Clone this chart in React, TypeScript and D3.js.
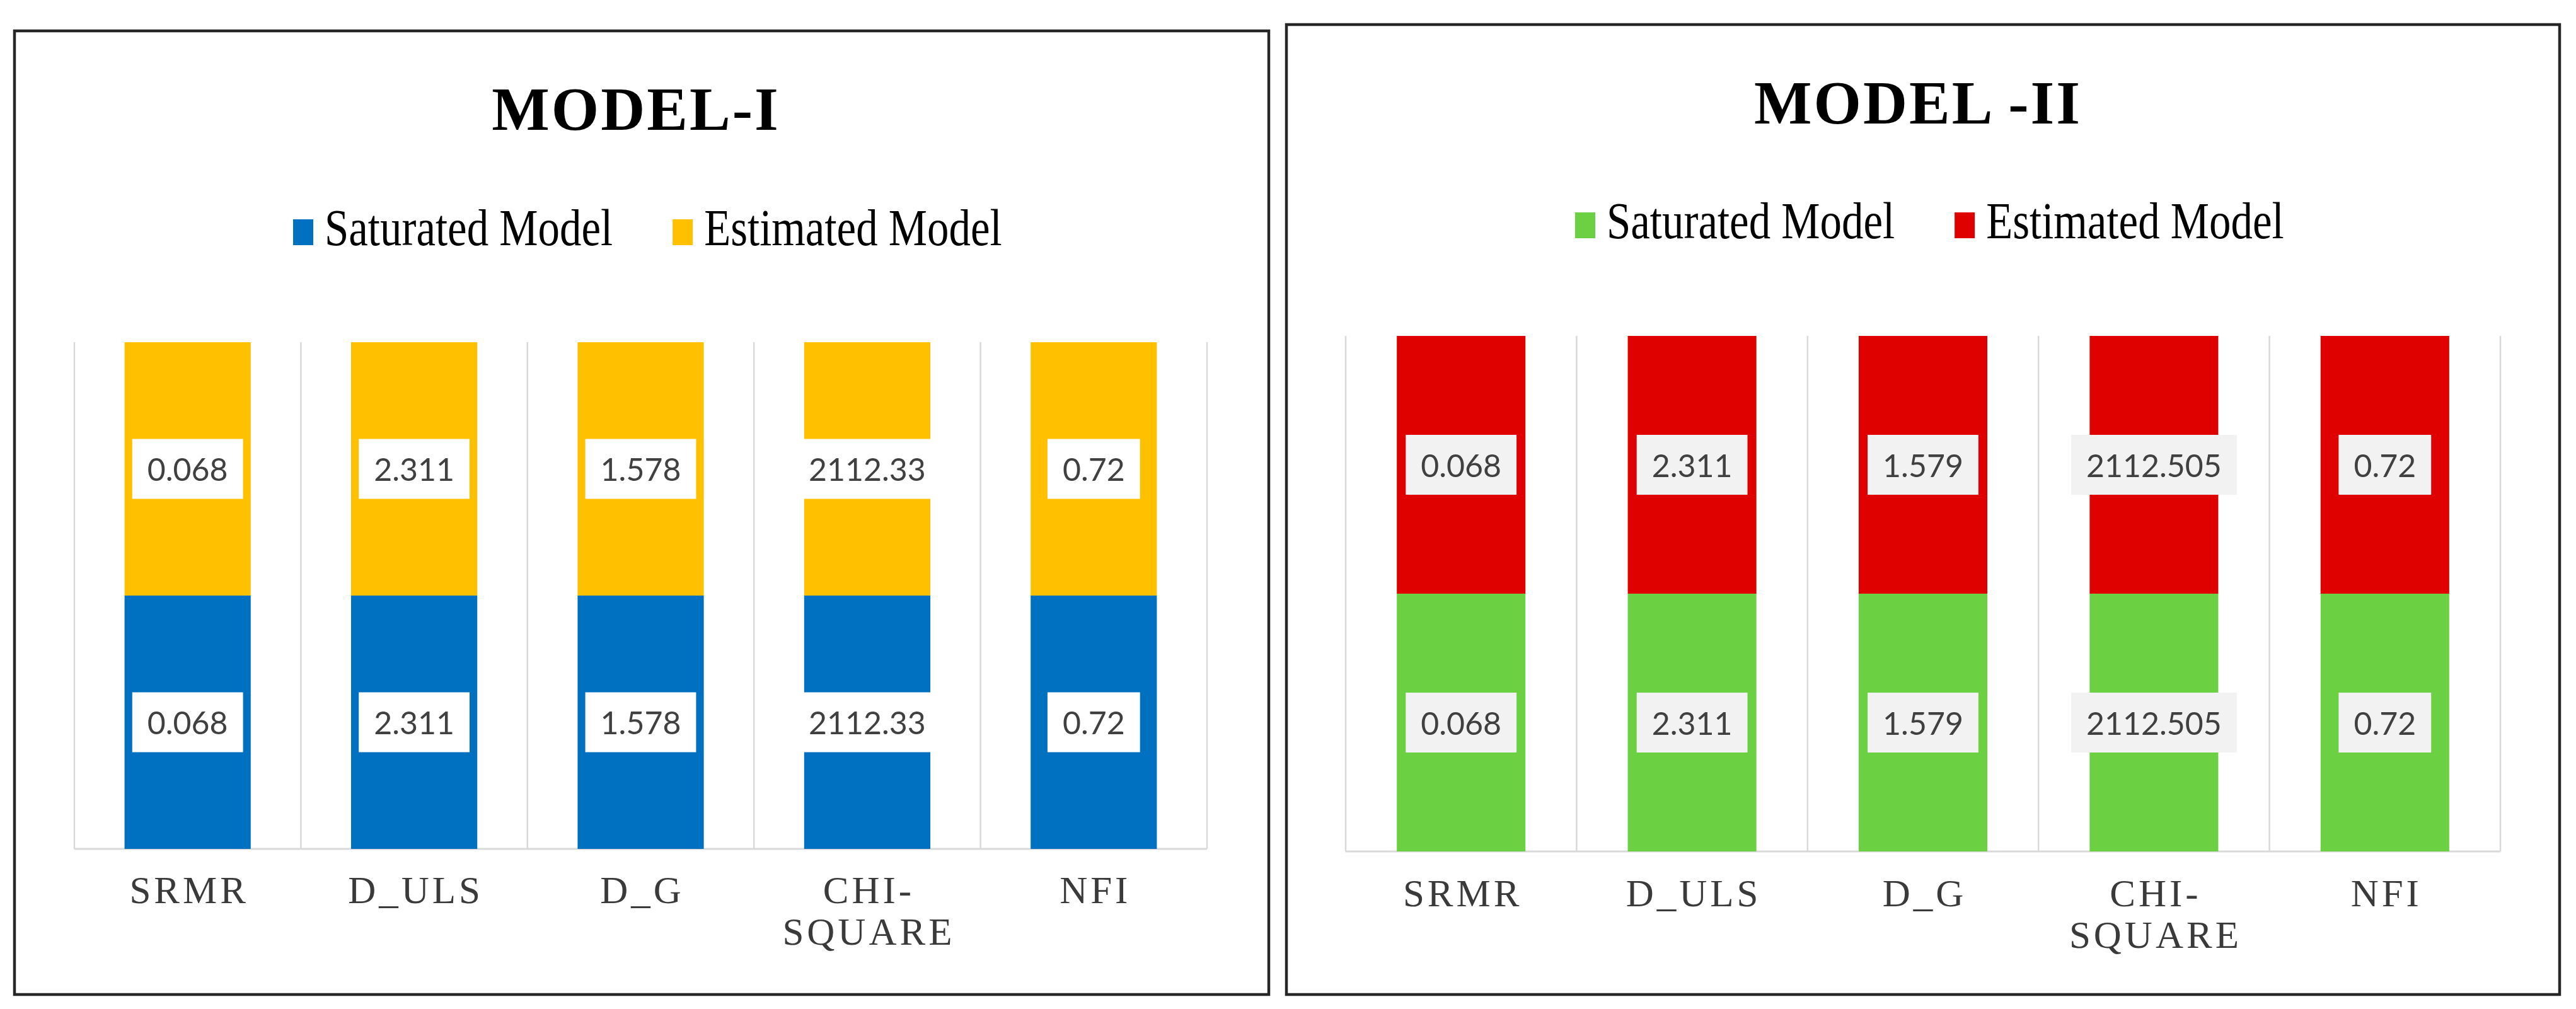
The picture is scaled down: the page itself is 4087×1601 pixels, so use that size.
import React, { useEffect, useRef } from "react";
import * as d3 from "d3";

// ---------- data ----------
const categories = ["SRMR", "D_ULS", "D_G", "CHI-SQUARE", "NFI"];
const tickLabels = [["SRMR"], ["D_ULS"], ["D_G"], ["CHI-", "SQUARE"], ["NFI"]];
const seriesKeys = ["saturated", "estimated"];
const seriesNames = ["Saturated Model", "Estimated Model"];

const model1Saturated = [0.068, 2.311, 1.578, 2112.33, 0.72];
const model1Estimated = [0.068, 2.311, 1.578, 2112.33, 0.72];
const model2Saturated = [0.068, 2.311, 1.579, 2112.505, 0.72];
const model2Estimated = [0.068, 2.311, 1.579, 2112.505, 0.72];

const model1Colors = ["#0070C0", "#FFC000"];
const model2Colors = ["#6BD142", "#DF0000"];

// ---------- layout ----------
const W = 4087;
const H = 1601;

const panels = [
  {
    title: "MODEL-I",
    saturated: model1Saturated,
    estimated: model1Estimated,
    colors: model1Colors,
    boxFill: "#FFFFFF",
    frame: { x0: 23, y0: 49, x1: 2013, y1: 1578 },
    titleX: 1009,
    titleY: 206,
    legendX: 465,
    legendY: 389,
    plot: { x0: 118, x1: 1915, y0: 543, y1: 1347 },
    tickY: 1433,
  },
  {
    title: "MODEL -II",
    saturated: model2Saturated,
    estimated: model2Estimated,
    colors: model2Colors,
    boxFill: "#F2F2F2",
    frame: { x0: 2041, y0: 39, x1: 4061, y1: 1578 },
    titleX: 3043,
    titleY: 196,
    legendX: 2499,
    legendY: 378,
    plot: { x0: 2135, x1: 3967, y0: 533, y1: 1351 },
    tickY: 1438,
  },
];

const SERIF = "'Liberation Serif', 'Times New Roman', serif";
const SANS = "Lato, 'Open Sans', 'Noto Sans', sans-serif";

export default function App() {
  const ref = useRef<SVGSVGElement | null>(null);

  useEffect(() => {
    const svg = d3.select(ref.current);
    svg.selectAll("*").remove();
    svg.append("rect").attr("width", W).attr("height", H).attr("fill", "#fff");

    panels.forEach((p) => {
      const g = svg.append("g");

      // frame
      g.append("rect")
        .attr("x", p.frame.x0)
        .attr("y", p.frame.y0)
        .attr("width", p.frame.x1 - p.frame.x0)
        .attr("height", p.frame.y1 - p.frame.y0)
        .attr("fill", "#fff")
        .attr("stroke", "#262626")
        .attr("stroke-width", 4.5);

      // title
      g.append("text")
        .attr("x", p.titleX)
        .attr("y", p.titleY)
        .attr("text-anchor", "middle")
        .attr("font-family", SERIF)
        .attr("font-weight", "bold")
        .attr("font-size", 97)
        .attr("letter-spacing", 3)
        .attr("fill", "#000")
        .text(p.title);

      // legend
      let lx = p.legendX;
      const sq = 32;
      const sqH = 41;
      const legendScale = 0.84;
      seriesNames.forEach((name, i) => {
        g.append("rect")
          .attr("x", lx)
          .attr("y", p.legendY - sqH)
          .attr("width", sq)
          .attr("height", sqH)
          .attr("fill", p.colors[i]);
        lx += sq + 18;
        const t = g
          .append("text")
          .attr("transform", `translate(${lx},${p.legendY}) scale(${legendScale},1)`)
          .attr("font-family", SERIF)
          .attr("font-size", 82)
          .attr("fill", "#000")
          .text(name);
        const tw = (t.node() as SVGTextElement).getComputedTextLength() * legendScale;
        lx += tw + 95;
      });

      // scales
      const x = d3
        .scaleBand<string>()
        .domain(categories)
        .range([p.plot.x0, p.plot.x1])
        .paddingInner(0.443)
        .paddingOuter(0.2215);
      const y = d3.scaleLinear().domain([0, 1]).range([p.plot.y1, p.plot.y0]);
      const step = x.step();

      // gridlines (category boundaries)
      const bounds = d3.range(categories.length + 1).map((i) => p.plot.x0 + i * step);
      g.selectAll(null)
        .data(bounds)
        .enter()
        .append("line")
        .attr("x1", (d) => d)
        .attr("x2", (d) => d)
        .attr("y1", y(1))
        .attr("y2", y(0))
        .attr("stroke", "#D9D9D9")
        .attr("stroke-width", 2.5);
      g.append("line")
        .attr("x1", p.plot.x0)
        .attr("x2", p.plot.x1)
        .attr("y1", y(0))
        .attr("y2", y(0))
        .attr("stroke", "#D9D9D9")
        .attr("stroke-width", 3);

      // stacked data (100%)
      const rows = categories.map((c, i) => ({
        category: c,
        saturated: p.saturated[i],
        estimated: p.estimated[i],
      }));
      const stack = d3
        .stack<any>()
        .keys(seriesKeys)
        .offset(d3.stackOffsetExpand);
      const series = stack(rows);

      series.forEach((s, si) => {
        g.selectAll(null)
          .data(s)
          .enter()
          .append("rect")
          .attr("x", (d: any) => x(d.data.category)!)
          .attr("width", x.bandwidth())
          .attr("y", (d: any) => y(d[1]))
          .attr("height", (d: any) => y(d[0]) - y(d[1]))
          .attr("fill", p.colors[si]);
      });

      // data labels
      series.forEach((s) => {
        s.forEach((d: any) => {
          const cx = x(d.data.category)! + x.bandwidth() / 2;
          const cy = y((d[0] + d[1]) / 2);
          const lg = g.append("g");
          const rect = lg.append("rect");
          const t = lg
            .append("text")
            .attr("x", cx)
            .attr("y", cy)
            .attr("text-anchor", "middle")
            .attr("dominant-baseline", "central")
            .attr("font-family", SANS)
            .attr("font-size", 50)
            .attr("fill", "#404040")
            .text(String(d.data[s.key]));
          const tw = (t.node() as SVGTextElement).getComputedTextLength();
          const bw = tw + 48;
          const bh = 95;
          rect
            .attr("x", cx - bw / 2)
            .attr("y", cy - bh / 2)
            .attr("width", bw)
            .attr("height", bh)
            .attr("fill", p.boxFill);
        });
      });

      // x-axis tick labels
      categories.forEach((c, i) => {
        const cx = x(c)! + x.bandwidth() / 2;
        const t = g
          .append("text")
          .attr("text-anchor", "middle")
          .attr("font-family", SERIF)
          .attr("font-size", 61)
          .attr("letter-spacing", 5)
          .attr("fill", "#3A3A3A");
        tickLabels[i].forEach((line, li) => {
          t.append("tspan")
            .attr("x", cx + 2.5)
            .attr("y", p.tickY + li * 66)
            .text(line);
        });
      });
    });
  }, []);

  return (
    <svg
      ref={ref}
      width={W}
      height={H}
      viewBox={`0 0 ${W} ${H}`}
      style={{ position: "absolute", left: 0, top: 0, display: "block" }}
    />
  );
}
